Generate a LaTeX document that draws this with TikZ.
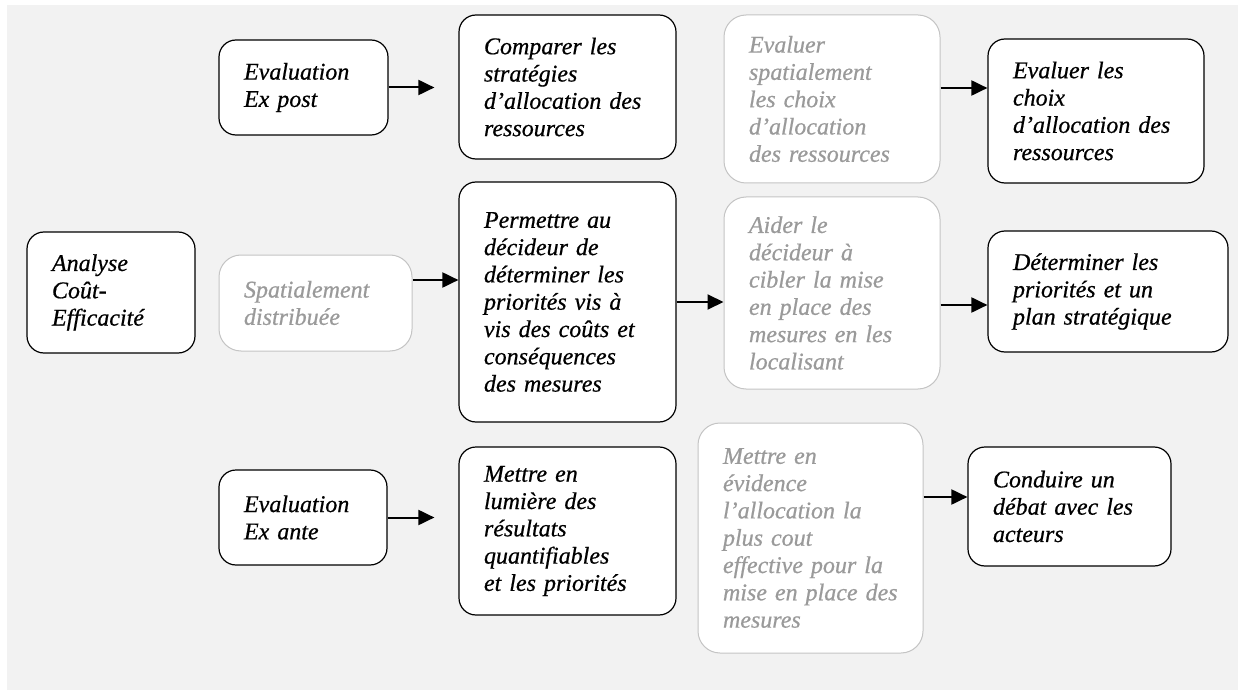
\documentclass[tikz,border=0pt]{standalone}
\usepackage{fontspec}
\setmainfont{Liberation Serif}[ItalicFeatures={FakeBold=0.6}]
\usepackage{tikz}
\usetikzlibrary{arrows.meta}
\definecolor{bgc}{HTML}{F2F2F2}
\definecolor{gtx}{HTML}{9A9A9A}
\definecolor{gln}{HTML}{C4C4C4}
\tikzset{bx/.style 2 args={draw=black, line width=.6pt, fill=white, rounded corners=8.5pt, align=left, inner xsep=12.5pt, text width=#1, minimum height=#2, font=\itshape\fontsize{12}{13.65}\selectfont}}
\tikzset{gx/.style 2 args={bx={#1}{#2}, draw=gln, line width=.5pt, rounded corners=11pt, text=gtx}}
\tikzset{ar/.style={line width=1pt, -{Triangle[length=8pt,width=7.5pt]}}}

\begin{document}
\begin{tikzpicture}[x=.5pt, y=-.5pt]
            \useasboundingbox (0,0) rectangle (1238,690);
            \fill[bgc] (7,5) rectangle (1238,690);
            \node[bx={59pt}{60.5pt}] (ace) at (111,292.5) {Analyse\\Coût-\\Efficacité};
            \node[bx={59.5pt}{47.5pt}] (expost) at (303.5,87.5) {Evaluation\\Ex post};
            \node[gx={71.5pt}{48pt}] (spat) at (315.5,303) {Spatialement\\distribuée};
            \node[bx={59pt}{47.5pt}] (exante) at (303,517.5) {Evaluation\\Ex ante};
            \node[bx={83.5pt}{72pt}] (comp) at (567.5,87) {Comparer les\\stratégies\\d’allocation des\\ressources};
            \node[bx={83.5pt}{120pt}] (perm) at (567.5,302) {Permettre au\\décideur de\\déterminer les\\priorités vis à\\vis des coûts et\\conséquences\\des mesures};
            \node[bx={83.5pt}{84pt}] (lum) at (567.5,531) {Mettre en\\lumière des\\résultats\\quantifiables\\et les priorités};
            \node[gx={83pt}{84pt}] (evsp) at (832,99) {Evaluer\\spatialement\\les choix\\d’allocation\\des ressources};
            \node[gx={83pt}{96pt}] (aider) at (832,293) {Aider le\\décideur à\\cibler la mise\\en place des\\mesures en les\\localisant};
            \node[gx={87.5pt}{115pt}] (evid) at (810.5,538) {Mettre en\\évidence\\l’allocation la\\plus cout\\effective pour la\\mise en place des\\mesures};
            \node[bx={83pt}{72pt}] (choix) at (1096,111) {Evaluer les\\choix\\d’allocation des\\ressources};
            \node[bx={95pt}{60.5pt}] (prio) at (1108,291.5) {Déterminer les\\priorités et un\\plan stratégique};
            \node[bx={76.5pt}{59.5pt}] (deb) at (1069.5,506.5) {Conduire un\\débat avec les\\acteurs};
            \coordinate (s1) at ([yshift=5.5pt]evsp.east);
            \coordinate (s2) at ([yshift=11.5pt]spat.east);
            \coordinate (s3) at ([yshift=-6pt]aider.east);
            \coordinate (s4) at ([yshift=20.5pt]evid.east);
            \draw[ar, shorten >=12pt] (expost.east) -- (expost.east -| comp.west);
            \draw[ar, shorten >=12pt] (exante.east) -- (exante.east -| lum.west);
            \draw[ar] (s2) -- (s2 -| perm.west);
            \draw[ar] (perm.east) -- (perm.east -| aider.west);
            \draw[ar] (s1) -- (s1 -| choix.west);
            \draw[ar] (s3) -- (s3 -| prio.west);
            \draw[ar] (s4) -- (s4 -| deb.west);
          \end{tikzpicture}
\end{document}
